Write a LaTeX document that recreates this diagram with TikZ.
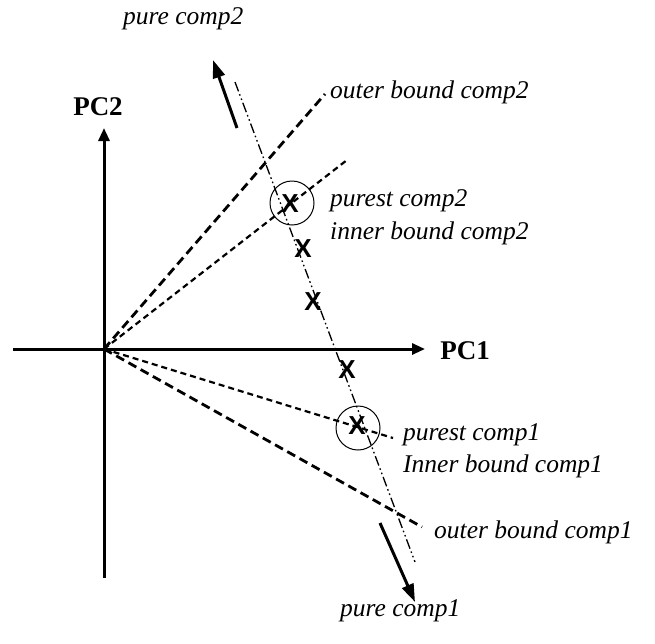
\documentclass[tikz,border=0pt]{standalone}
\usepackage{fontspec}
\setmainfont{Liberation Serif}
\newfontfamily\xfont{Liberation Sans}
\usetikzlibrary{arrows.meta}
\begin{document}
\begin{tikzpicture}[x=1pt,y=-1pt,
  axis/.style={line width=3pt,-{Triangle[length=13pt,width=11pt]}},
  purearrow/.style={line width=3pt,-{Triangle[length=18pt,width=12pt]}},
  outerb/.style={line width=2.8pt,dash pattern=on 9pt off 5pt},
  innerb/.style={line width=2.2pt,dash pattern=on 6pt off 4pt},
  dashdot/.style={line width=1.3pt,dash pattern=on 10pt off 3pt on 1.6pt off 3pt on 1.6pt off 3pt},
  ring/.style={draw,circle,line width=1pt,minimum size=44pt,inner sep=0pt},
  lbl/.style={font=\fontsize{25.5}{28}\selectfont\itshape,anchor=west,inner sep=0pt},
  pclbl/.style={font=\fontsize{27}{28}\selectfont\bfseries,inner sep=0pt},
  xmark/.style={font=\fontsize{26}{28}\selectfont\xfont\bfseries,inner sep=0pt}]
\useasboundingbox (0,0) rectangle (655,643);
% coordinates
\coordinate (O) at (104,349);
\coordinate (hl) at (13,349);
\coordinate (hr) at (425,349);
\coordinate (vb) at (104,578);
\coordinate (vt) at (104,128);
\coordinate (ddtop) at (235,82);
\coordinate (ddbot) at (415,562);
\coordinate (p2s) at (237,128);
\coordinate (p2e) at (213,60);
\coordinate (p1s) at (380,523);
\coordinate (p1e) at (415,602);
\coordinate (oc2) at (325,94);
\coordinate (ic2) at (347,160);
\coordinate (ic1) at (393,438);
\coordinate (oc1) at (422,527);
% axes
\draw[axis] (hl) -- (hr);
\draw[axis] (vb) -- (vt);
% bounds
\draw[outerb] (O) -- (oc2);
\draw[innerb] (O) -- (ic2);
\draw[innerb] (O) -- (ic1);
\draw[outerb] (O) -- (oc1);
% dash-dot line
\draw[dashdot] (ddtop) -- (ddbot);
% pure arrows
\draw[purearrow] (p2s) -- (p2e);
\draw[purearrow] (p1s) -- (p1e);
% circles
\node[ring] (c2) at (292,203) {};
\node[ring] (c1) at (358,428) {};
% X marks
\node[xmark] (x1) at (290,204) {X};
\node[xmark] (x2) at (303,249) {X};
\node[xmark] (x3) at (313,302) {X};
\node[xmark] (x4) at (347,370) {X};
\node[xmark] (x5) at (357,426) {X};
% labels
\node[pclbl] (pc2) at (98,107) {PC2};
\node[pclbl] (pc1) at (465,351) {PC1};
\node[lbl] (tpure2) at (123,19) {pure comp2};
\node[lbl] (touter2) at (330,92) {outer bound comp2};
\node[lbl] (tpurest2) at (330,201) {purest comp2};
\node[lbl] (tinner2) at (330,233) {inner bound comp2};
\node[lbl] (tpurest1) at (403,435) {purest comp1};
\node[lbl] (tinner1) at (403,466) {Inner bound comp1};
\node[lbl] (touter1) at (434,532) {outer bound comp1};
\node[lbl] (tpure1) at (340,611) {pure comp1};
\end{tikzpicture}
\end{document}
